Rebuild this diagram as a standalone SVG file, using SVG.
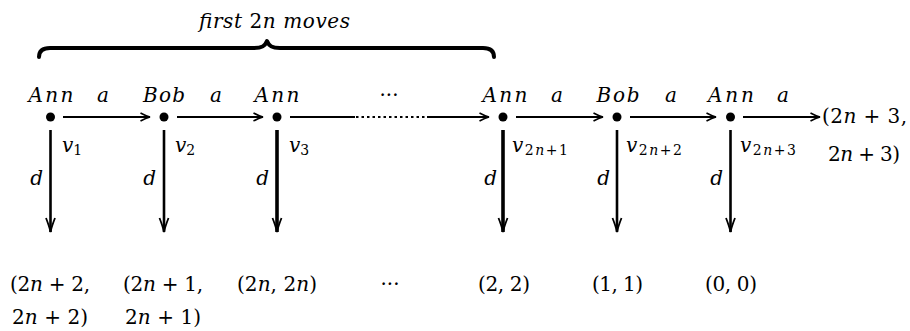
<svg xmlns="http://www.w3.org/2000/svg" width="910" height="331" viewBox="0 0 910 331">
<style>
text{font-family:"DejaVu Serif",serif;fill:#000;font-size:20px}
.i{font-style:italic}
.sub{font-size:14px}
.lbl{text-anchor:middle}
.dot{fill:#000}
.h{stroke:#000;stroke-width:2.2;fill:none}
.v{stroke:#000;stroke-width:2.6;fill:none}
.vt{stroke:#000;stroke-width:3.6;fill:none}
.dt{stroke:#000;stroke-width:2.2;stroke-dasharray:2.5 3;fill:none}
</style>
<defs>
<marker id="ah" markerWidth="14" markerHeight="12" refX="10" refY="5" orient="auto" markerUnits="userSpaceOnUse" overflow="visible">
<path d="M0.5 1 Q6 4 10 5 Q6 6 0.5 9" fill="none" stroke="#000" stroke-width="1.6"/>
</marker>
<marker id="av" markerWidth="18" markerHeight="12" refX="14" refY="5" orient="auto" markerUnits="userSpaceOnUse" overflow="visible">
<path d="M0 0.5 Q9 4 14 5 Q9 6 0 9.5" fill="none" stroke="#000" stroke-width="1.8"/>
</marker>
</defs>

<g id="brace">
<path d="M39 57 C39 51 43 48 50 48 L254 48 C262 48 265 46 267 41 C269 46 272 48 280 48 L483 48 C490 48 494 51 494 57" fill="none" stroke="#000" stroke-width="4" stroke-linejoin="round" stroke-linecap="round"/>
<text class="i" x="199" y="28" textLength="151" lengthAdjust="spacing">first <tspan font-style="normal">2</tspan>n  moves</text>
</g>

<g id="connectors">
<line class="h" x1="63" y1="117" x2="150" y2="117" marker-end="url(#ah)"/>
<line class="h" x1="177" y1="117" x2="263" y2="117" marker-end="url(#ah)"/>
<line class="h" x1="290" y1="117" x2="355" y2="117"/>
<line class="dt" x1="356" y1="117" x2="427" y2="117"/>
<line class="h" x1="427" y1="117" x2="489" y2="117" marker-end="url(#ah)"/>
<line class="h" x1="516" y1="117" x2="603" y2="117" marker-end="url(#ah)"/>
<line class="h" x1="630" y1="117" x2="716" y2="117" marker-end="url(#ah)"/>
<line class="h" x1="743" y1="117" x2="820" y2="117" marker-end="url(#ah)"/>
<line class="v" x1="50.5" y1="130" x2="50.5" y2="232" marker-end="url(#av)"/>
<line class="v" x1="164" y1="130" x2="164" y2="232" marker-end="url(#av)"/>
<line class="vt" x1="277" y1="130" x2="277" y2="232" marker-end="url(#av)"/>
<line class="vt" x1="503" y1="130" x2="503" y2="232" marker-end="url(#av)"/>
<line class="v" x1="617" y1="130" x2="617" y2="232" marker-end="url(#av)"/>
<line class="v" x1="730.5" y1="130" x2="730.5" y2="232" marker-end="url(#av)"/>
<text class="i lbl" x="103" y="102">a</text>
<text class="i lbl" x="216" y="102">a</text>
<text class="lbl" x="389" y="102">···</text>
<text class="i lbl" x="557" y="102">a</text>
<text class="i lbl" x="671" y="102">a</text>
<text class="i lbl" x="783" y="102">a</text>
<text class="i" x="43" y="185" text-anchor="end">d</text>
<text class="i" x="156" y="185" text-anchor="end">d</text>
<text class="i" x="269" y="185" text-anchor="end">d</text>
<text class="i" x="497" y="185" text-anchor="end">d</text>
<text class="i" x="610" y="185" text-anchor="end">d</text>
<text class="i" x="723" y="185" text-anchor="end">d</text>
</g>

<g id="n1">
<circle class="dot" cx="50.5" cy="117" r="4.5"/>
<text class="i lbl" x="51" y="102" textLength="45" lengthAdjust="spacing">Ann</text>
<text class="i" x="62" y="152">v<tspan class="sub" font-style="normal" dy="3">1</tspan></text>
</g>
<g id="n2">
<circle class="dot" cx="164" cy="117" r="4.5"/>
<text class="i lbl" x="164" y="102" textLength="42" lengthAdjust="spacing">Bob</text>
<text class="i" x="175" y="152">v<tspan class="sub" font-style="normal" dy="3">2</tspan></text>
</g>
<g id="n3">
<circle class="dot" cx="277" cy="117" r="4.5"/>
<text class="i lbl" x="277" y="102" textLength="45" lengthAdjust="spacing">Ann</text>
<text class="i" x="289" y="152">v<tspan class="sub" font-style="normal" dy="3">3</tspan></text>
</g>
<g id="n4">
<circle class="dot" cx="503" cy="117" r="4.5"/>
<text class="i lbl" x="505" y="102" textLength="45" lengthAdjust="spacing">Ann</text>
<text class="i" x="512" y="152" textLength="56" lengthAdjust="spacing">v<tspan class="sub" font-style="normal" dy="3">2<tspan font-style="italic">n</tspan>+1</tspan></text>
</g>
<g id="n5">
<circle class="dot" cx="617" cy="117" r="4.5"/>
<text class="i lbl" x="618" y="102" textLength="43" lengthAdjust="spacing">Bob</text>
<text class="i" x="626" y="152" textLength="56" lengthAdjust="spacing">v<tspan class="sub" font-style="normal" dy="3">2<tspan font-style="italic">n</tspan>+2</tspan></text>
</g>
<g id="n6">
<circle class="dot" cx="730.5" cy="117" r="4.5"/>
<text class="i lbl" x="731" y="102" textLength="46" lengthAdjust="spacing">Ann</text>
<text class="i" x="740" y="152" textLength="56" lengthAdjust="spacing">v<tspan class="sub" font-style="normal" dy="3">2<tspan font-style="italic">n</tspan>+3</tspan></text>
</g>

<g id="o7">
<text x="822" y="123" textLength="85" lengthAdjust="spacing">(2<tspan class="i">n</tspan> + 3,</text>
<text x="828" y="161" textLength="72" lengthAdjust="spacing">2<tspan class="i">n</tspan> + 3)</text>
</g>
<g id="o1">
<text x="10" y="291" textLength="80" lengthAdjust="spacing">(2<tspan class="i">n</tspan> + 2,</text>
<text x="12" y="324" textLength="76" lengthAdjust="spacing">2<tspan class="i">n</tspan> + 2)</text>
</g>
<g id="o2">
<text x="123" y="291" textLength="80" lengthAdjust="spacing">(2<tspan class="i">n</tspan> + 1,</text>
<text x="125" y="324" textLength="76" lengthAdjust="spacing">2<tspan class="i">n</tspan> + 1)</text>
</g>
<g id="o3">
<text x="237" y="291" textLength="80" lengthAdjust="spacing">(2<tspan class="i">n</tspan>, 2<tspan class="i">n</tspan>)</text>
</g>
<g id="odots">
<text class="lbl" x="390" y="291">···</text>
</g>
<g id="o4">
<text x="478" y="291" textLength="52" lengthAdjust="spacing">(2, 2)</text>
</g>
<g id="o5">
<text x="592" y="291" textLength="51" lengthAdjust="spacing">(1, 1)</text>
</g>
<g id="o6">
<text x="705" y="291" textLength="52" lengthAdjust="spacing">(0, 0)</text>
</g>
</svg>
